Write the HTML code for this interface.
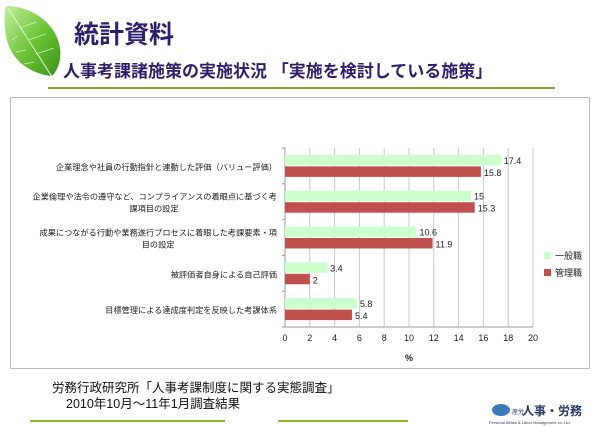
<!DOCTYPE html>
<html><head><meta charset="utf-8">
<style>
body{margin:0;width:600px;height:426px;background:#fff;overflow:hidden;position:relative;font-family:"Liberation Sans","Noto Sans CJK JP",sans-serif}
.abs{position:absolute}
</style></head><body>
<svg class="abs" style="left:0;top:0" width="600" height="426">
  <defs>
    <linearGradient id="lf" x1="0" y1="0" x2="1" y2="1">
      <stop offset="0" stop-color="#c4ee9c"/><stop offset="0.55" stop-color="#66c232"/><stop offset="1" stop-color="#3d8f1a"/>
    </linearGradient>
  </defs>
  <g>
    <path d="M6,6 C30,6 56,22 60,48 C62,62 56,72 52,76 C30,74 10,60 6,36 C4,24 4,14 6,6 Z" fill="url(#lf)"/>
    <path d="M8,8 L54,80" stroke="#e8f8d8" stroke-width="1" fill="none"/>
    <path d="M20,28 L36,22 M28,40 L46,34 M36,54 L54,48 M18,36 L12,40 M26,50 L16,52 M34,62 L24,64" stroke="#d8f2c0" stroke-width="0.7" fill="none"/>
  </g>
  <text x="74" y="43" font-size="25" font-weight="bold" fill="#2e1f6b" font-family="Liberation Sans,Noto Sans CJK JP,sans-serif">統計資料</text>
  <text x="63" y="77" font-size="17" font-weight="bold" fill="#2e1f6b" font-family="Liberation Sans,Noto Sans CJK JP,sans-serif">人事考課諸施策の実施状況 「実施を検討している施策」</text>
  <line x1="48" y1="88" x2="555" y2="88" stroke="#7aaa2a" stroke-width="2"/>
  <rect x="10.5" y="97.5" width="579" height="271" fill="#fff" stroke="#bbb"/>
  <g id="chart"></g>
  <text x="52" y="392" font-size="12.5" fill="#111" font-family="Liberation Sans,Noto Sans CJK JP,sans-serif">労務行政研究所「人事考課制度に関する実態調査」</text>
  <text x="66" y="408" font-size="12.5" fill="#111" font-family="Liberation Sans,Noto Sans CJK JP,sans-serif">2010年10月～11年1月調査結果</text>
  <line x1="30" y1="421" x2="225" y2="421" stroke="#8bbb2a" stroke-width="2"/>
  <line x1="278" y1="421" x2="408" y2="421" stroke="#8bbb2a" stroke-width="2"/>
  <g>
    <ellipse cx="501" cy="410" rx="9" ry="6" fill="#3a7ab8"/>
    <text x="512" y="414" font-size="6" fill="#2a3a6a">産労</text>
    <text x="522" y="415" font-size="12" font-weight="bold" fill="#2a3a6a" font-family="Liberation Sans,Noto Sans CJK JP,sans-serif">人事・労務</text>
    <text x="489" y="424" font-size="4" fill="#2a3a6a">Personal Affairs &amp; Labor Management co.,Ltd.</text>
  </g>
</svg>
<script>
const categories=["企業理念や社員の行動指針と連動した評価（バリュー評価）","企業倫理や法令の遵守など、コンプライアンスの着眼点に基づく考|課項目の設定","成果につながる行動や業務遂行プロセスに着眼した考課要素・項|目の設定","被評価者自身による自己評価","目標管理による達成度判定を反映した考課体系"];
const generalValues=[17.4,15,10.6,3.4,5.8];
const generalLabels=["17.4","15","10.6","3.4","5.8"];
const managerValues=[15.8,15.3,11.9,2,5.4];
const managerLabels=["15.8","15.3","11.9","2","5.4"];
const xTicks=[0,2,4,6,8,10,12,14,16,18,20];
const seriesNames=["一般職","管理職"];

const NS="http://www.w3.org/2000/svg";
const g=document.getElementById('chart');
const X0=285,X1=533,Y0=148,Y1=327,XMAX=20;
const xs=v=>X0+(v/XMAX)*(X1-X0);
const band=(Y1-Y0)/categories.length;
function mk(t,a,txt){const e=document.createElementNS(NS,t);for(const k in a)e.setAttribute(k,a[k]);if(txt!==undefined)e.textContent=txt;g.appendChild(e);return e;}
xTicks.forEach(t=>{
  const gl=mk('line',{x1:xs(t),x2:xs(t),y1:Y0,y2:Y1,stroke:t===0?'#999':'#c8c8c8','stroke-width':1});
  
  
  const tl=mk('text',{x:xs(t),y:Y1+14,'font-size':9,'text-anchor':'middle',fill:'#222'},String(t));
  
  
});
mk('line',{x1:X0,x2:X1,y1:Y1,y2:Y1,stroke:'#999'});
for(let i=0;i<=categories.length;i++){mk('line',{x1:X0-3,x2:X0,y1:Y0+i*band,y2:Y0+i*band,stroke:'#999'});}
const xt=mk('text',{x:(X0+X1)/2,y:361,'font-size':9,'font-weight':'bold','text-anchor':'middle',fill:'#222'},'%');


categories.forEach((c,i)=>{
  const top=Y0+i*band, bh=10.5, mid=top+band/2;
  const b1=mk('rect',{x:X0,y:mid-bh-0.5,width:xs(generalValues[i])-X0,height:bh,fill:'#ccffcc'});
  
  
  const b2=mk('rect',{x:X0,y:mid+0.5,width:xs(managerValues[i])-X0,height:bh,fill:'#c0504d'});
  
  
  const l1=mk('text',{x:xs(generalValues[i])+3,y:mid-2,'font-size':9,fill:'#222'},generalLabels[i]);
  
  
  const l2=mk('text',{x:xs(managerValues[i])+3,y:mid+10,'font-size':9,fill:'#222'},managerLabels[i]);
  
  
  const lines=c.split('|');
  lines.forEach((ln,j)=>{
    const y=mid+4+(j-(lines.length-1)/2)*12;
    const t=mk('text',{x:X0-8,y:y,'font-size':8.2,'text-anchor':'end',fill:'#222'},ln);
    if(lines.length>1&&j>0){t.setAttribute('x',X0-8-lines[0].length*8.2/2);t.setAttribute('text-anchor','middle');}
    
    
  });
});
seriesNames.forEach((s,i)=>{
  const y=252+i*17;
  const sq=mk('rect',{x:544,y:y,width:7,height:7,fill:i===0?'#ccffcc':'#c0504d'});
  
  
  const t=mk('text',{x:555,y:y+7,'font-size':9,fill:'#222'},s);
  
  
});
</script>
</body></html>
